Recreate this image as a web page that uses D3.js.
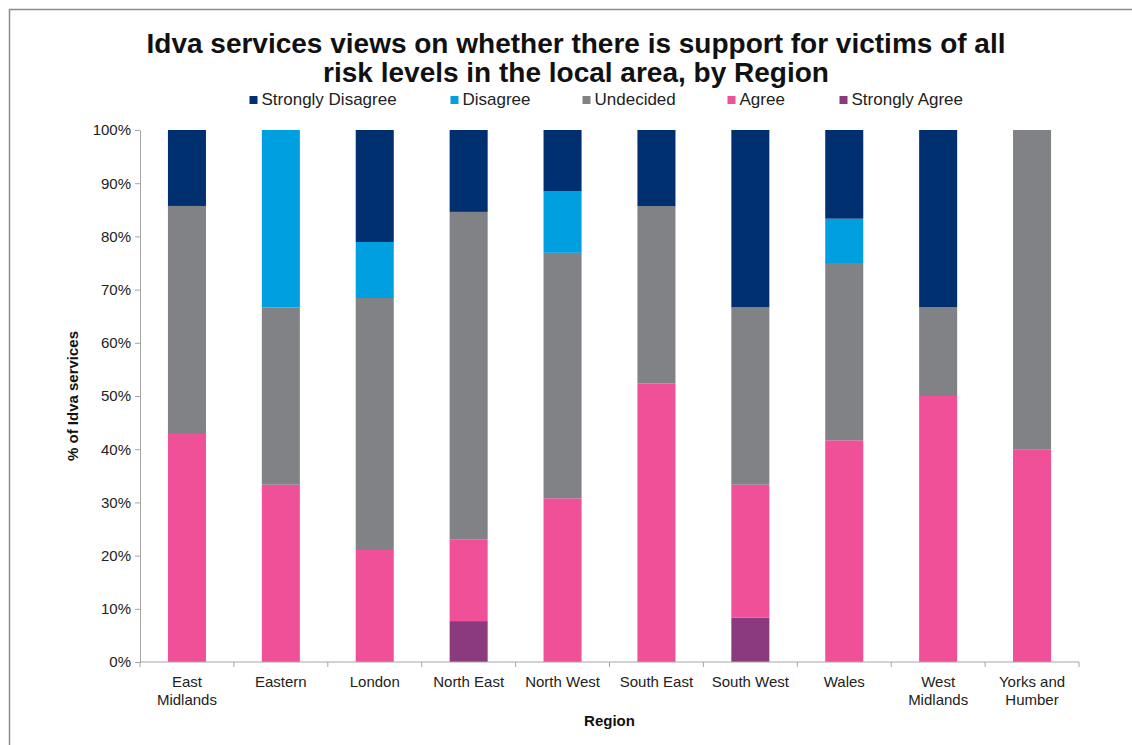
<!DOCTYPE html>
<html><head><meta charset="utf-8">
<script src="https://cdn.jsdelivr.net/npm/d3@7"></script>
<style>body{margin:0;background:#fff;}svg{display:block;font-family:"Liberation Sans",Arial,sans-serif;}</style>
</head><body><svg id="c" width="1132" height="745"></svg>
<script>
const categories = ["East Midlands","Eastern","London","North East","North West","South East","South West","Wales","West Midlands","Yorks and Humber"];
const seriesNames = ["Strongly Agree","Agree","Undecided","Disagree","Strongly Disagree"];
const stronglyAgree    = [0,     0,     0,     7.69,  0,     0,     8.33,  0,     0,     0];
const agree            = [42.86, 33.33, 21.05, 15.38, 30.77, 52.38, 25.00, 41.67, 50.00, 40.00];
const undecided        = [42.86, 33.33, 47.37, 61.54, 46.15, 33.33, 33.33, 33.33, 16.67, 60.00];
const disagree         = [0,     33.34, 10.53, 0,     11.54, 0,     0,     8.33,  0,     0];
const stronglyDisagree = [14.28, 0,     21.05, 15.39, 11.54, 14.29, 33.34, 16.67, 33.33, 0];
const yTicks = [0,10,20,30,40,50,60,70,80,90,100];
const colors = {"Strongly Disagree":"#00306f","Disagree":"#009fdf","Undecided":"#808285","Agree":"#ef5098","Strongly Agree":"#8c3a7f"};
const legendOrder = ["Strongly Disagree","Disagree","Undecided","Agree","Strongly Agree"];

const seriesValues = {"Strongly Agree":stronglyAgree,"Agree":agree,"Undecided":undecided,"Disagree":disagree,"Strongly Disagree":stronglyDisagree};
const rows = categories.map((c,i)=>{const r={cat:c};seriesNames.forEach(s=>r[s]=seriesValues[s][i]);return r;});

const svg = d3.select("#c");
// outer border
svg.append("rect").attr("x",9.5).attr("y",9.5).attr("width",1200).attr("height",800).attr("fill","none").attr("stroke","#8a8a8a").attr("stroke-width",1.5);

const L=140, R=1079, T=130, B=662;
const x = d3.scaleBand().domain(categories).range([L,R]).paddingInner(0.595).paddingOuter(0.2975);
const y = d3.scaleLinear().domain([0,100]).range([B,T]);

const stack = d3.stack().keys(seriesNames)(rows);
svg.append("g").selectAll("g").data(stack).join("g").attr("fill",d=>colors[d.key])
  .selectAll("rect").data(d=>d).join("rect")
  .attr("x",d=>x(d.data.cat)).attr("width",x.bandwidth())
  .attr("y",d=>y(Math.min(100,d[1]))).attr("height",d=>Math.max(0,y(d[0])-y(Math.min(100,d[1]))));

// y axis
const ya = svg.append("g").attr("transform",`translate(${L},0)`)
  .call(d3.axisLeft(y).tickValues(yTicks).tickFormat(d=>d+"%").tickSize(5).tickSizeOuter(0));
ya.select(".domain").attr("stroke","#a6a6a6");
ya.selectAll(".tick line").attr("stroke","#a6a6a6");
ya.selectAll(".tick text").attr("font-size",15).attr("fill","#222").attr("x",-9).attr("font-family","Liberation Sans, Arial, sans-serif");

// x axis
const xa = svg.append("g").attr("transform",`translate(0,${B})`);
xa.append("line").attr("x1",L).attr("x2",R).attr("stroke","#a6a6a6");
const bounds = d3.range(categories.length+1).map(i=>L+(R-L)*i/categories.length);
xa.selectAll(".tk").data(bounds).join("line").attr("x1",d=>d).attr("x2",d=>d).attr("y1",0).attr("y2",5).attr("stroke","#a6a6a6");
const labels = {"East Midlands":["East","Midlands"],"North East":["North East"],"North West":["North West"],"South East":["South East"],"South West":["South West"],"West Midlands":["West","Midlands"],"Yorks and Humber":["Yorks and","Humber"]};
categories.forEach(c=>{
  const lines = labels[c]||[c];
  const t = xa.append("text").attr("text-anchor","middle").attr("font-size",15).attr("fill","#222")
    .attr("x",x(c)+x.bandwidth()/2).attr("y",25);
  lines.forEach((ln,i)=>t.append("tspan").attr("x",x(c)+x.bandwidth()/2).attr("dy",i===0?0:18).text(ln));
});

// axis titles
svg.append("text").attr("x",(L+R)/2).attr("y",726).attr("text-anchor","middle").attr("font-size",15).attr("font-weight","bold").attr("fill","#111").text("Region");
svg.append("text").attr("transform",`translate(78,${(T+B)/2}) rotate(-90)`).attr("text-anchor","middle").attr("font-size",15).attr("font-weight","bold").attr("fill","#111").text("% of Idva services");

// title
const title = svg.append("text").attr("text-anchor","middle").attr("font-size",28).attr("font-weight","bold").attr("fill","#111");
title.append("tspan").attr("x",576).attr("y",53).text("Idva services views on whether there is support for victims of all");
title.append("tspan").attr("x",576).attr("y",82).text("risk levels in the local area, by Region");

// legend
const legX = [253.5,454.5,586.5,731.5,843.5];
const lg = svg.append("g");
legendOrder.forEach((s,i)=>{
  lg.append("rect").attr("x",legX[i]-4).attr("y",96).attr("width",8).attr("height",8).attr("fill",colors[s]);
  lg.append("text").attr("x",legX[i]+8).attr("y",105).attr("font-size",17).attr("fill","#222").text(s);
});
</script></body></html>
